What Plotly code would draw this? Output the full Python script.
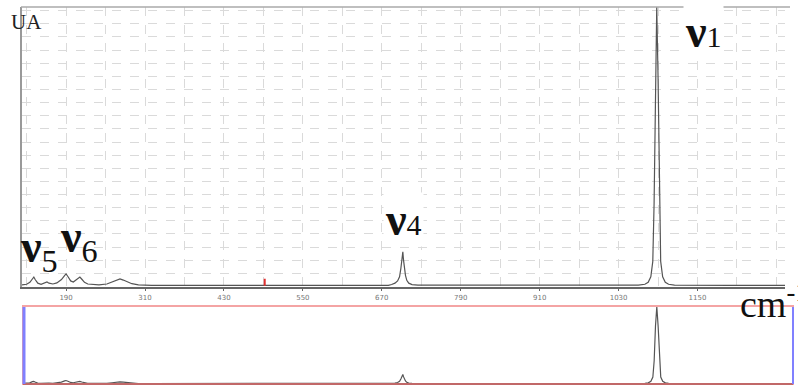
import plotly.graph_objects as go

# Raman spectrum (wavenumber in cm-1, relative intensity in %)
wavenumber = [123, 130, 135, 139, 141, 143, 147, 152, 157, 161, 164, 170, 176, 183, 188, 190,
              193, 197, 201, 205, 209, 211, 214, 218, 223, 230, 240, 252, 260, 267, 272, 277,
              283, 290, 300, 320, 400, 500, 600, 680, 685, 690, 694, 697, 699, 700, 702, 703,
              704, 706, 708, 711, 716, 725, 800, 900, 1000, 1060, 1070, 1075, 1079, 1082, 1084,
              1086, 1088, 1090, 1092, 1094, 1097, 1101, 1106, 1115, 1200, 1283, 1295]
intensity = [0.6, 0.8, 1.5, 3.0, 3.4, 2.5, 1.2, 0.8, 1.2, 1.6, 1.2, 0.9, 1.3, 2.5, 4.0, 4.5,
             3.5, 2.0, 1.6, 2.3, 3.2, 3.4, 2.6, 1.5, 0.9, 0.7, 0.6, 0.9, 1.6, 2.4, 2.7, 2.3,
             1.6, 1.0, 0.6, 0.4, 0.4, 0.4, 0.4, 0.4, 0.7, 1.2, 2.0, 3.5, 6.5, 8.0, 12.4, 9.5,
             7.0, 4.0, 2.2, 1.2, 0.7, 0.5, 0.5, 0.5, 0.5, 0.5, 0.8, 1.5, 3.5, 9.0, 30.0,
             75.0, 100.0, 75.0, 30.0, 9.0, 3.5, 1.5, 0.8, 0.5, 0.4, 0.4, 0.4]

tick_values = [190, 310, 430, 550, 670, 790, 910, 1030, 1150]
tick_labels = [str(v) for v in tick_values]

# Band labels: (text, x px, y px, white box)
band_labels = [
    ("<b>ν</b><span style='font-size:30px'>1</span>", 703, 31, True),
    ("<b>ν</b><span style='font-size:30px'>4</span>", 403, 219, True),
    ("<b>ν</b><sub>5</sub>", 39, 250, False),
    ("<b>ν</b><sub>6</sub>", 79, 240, False),
]

SERIF = "Times New Roman, Liberation Serif, DejaVu Serif, serif"
W, H = 798, 385


def px(x):
    return x / W


def py(y):
    return 1 - y / H


fig = go.Figure()

line_style = dict(color="#555555", width=1.2)
fig.add_trace(go.Scatter(x=wavenumber, y=intensity, mode="lines", line=line_style,
                         xaxis="x", yaxis="y", hoverinfo="skip"))
fig.add_trace(go.Scatter(x=wavenumber, y=intensity, mode="lines", line=line_style,
                         xaxis="x2", yaxis="y2", hoverinfo="skip"))
# cursor marker on the baseline
fig.add_trace(go.Scatter(x=[492], y=[1.5], mode="markers",
                         marker=dict(symbol="line-ns", size=5, line=dict(color="#e03030", width=2)),
                         xaxis="x", yaxis="y", hoverinfo="skip"))

grid_col = "#dadada"
fig.update_layout(
    width=W, height=H,
    margin=dict(l=0, r=0, t=0, b=0),
    paper_bgcolor="white", plot_bgcolor="white",
    showlegend=False,
    xaxis=dict(
        domain=[px(22), px(785)], range=[123, 1283], anchor="y",
        tickvals=tick_values, ticktext=tick_labels,
        tickfont=dict(family="DejaVu Sans", size=7, color="#777777"),
        ticks="outside", ticklen=3, tickcolor="#666666",
        showline=True, linecolor="#666666", linewidth=1.5,
        showgrid=True, gridcolor=grid_col, griddash="dash", gridwidth=1,
        minor=dict(tick0=130, dtick=60, showgrid=True, gridcolor=grid_col,
                   griddash="dash", gridwidth=1, ticks=""),
        zeroline=False,
    ),
    yaxis=dict(
        domain=[py(286.5), py(7)], range=[0, 100], anchor="x",
        showticklabels=False, ticks="",
        showline=True, linecolor="#999999", linewidth=2,
        showgrid=True, gridcolor=grid_col, griddash="dash", gridwidth=1,
        tick0=0, dtick=4.7, zeroline=False,
    ),
    xaxis2=dict(
        domain=[px(23), px(793)], range=[124.7, 1295], anchor="y2",
        showticklabels=False, ticks="", showgrid=False, zeroline=False, showline=False,
    ),
    yaxis2=dict(
        domain=[py(384), py(306)], range=[0, 101], anchor="x2",
        showticklabels=False, ticks="", showgrid=False, zeroline=False, showline=False,
    ),
)

shapes = [
    # top border of main panel
    dict(type="line", xref="paper", yref="paper", x0=px(21), x1=px(790), y0=py(7), y1=py(7),
         line=dict(color="#aaaaaa", width=1.5)),
    # overview panel frame
    dict(type="rect", xref="paper", yref="paper", x0=px(23), x1=px(793), y0=py(384), y1=py(306),
         line=dict(color="#f4a4a4", width=2)),
    dict(type="line", xref="paper", yref="paper", x0=px(23), x1=px(793), y0=py(384), y1=py(384),
         line=dict(color="#b05555", width=1.5)),
    dict(type="line", xref="paper", yref="paper", x0=px(24), x1=px(24), y0=py(384), y1=py(307),
         line=dict(color="#8080ff", width=3)),
    dict(type="line", xref="paper", yref="paper", x0=px(793), x1=px(793), y0=py(384), y1=py(307),
         line=dict(color="#8080ff", width=2)),
]
fig.update_layout(shapes=shapes)

annotations = [
    dict(text="UA", x=px(9), y=py(22), xref="paper", yref="paper", xanchor="left", yanchor="middle",
         showarrow=False, font=dict(family=SERIF, size=21, color="#222222")),
    dict(text="cm<sup>-1</sup>", x=px(738), y=py(301), xref="paper", yref="paper",
         xanchor="left", yanchor="middle", showarrow=False,
         font=dict(family=SERIF, size=38, color="#111111")),
]
for text, x, y, boxed in band_labels:
    annotations.append(dict(
        text=text, x=px(x), y=py(y), xref="paper", yref="paper",
        xanchor="center", yanchor="middle", showarrow=False,
        bgcolor="white" if boxed else "rgba(0,0,0,0)",
        font=dict(family=SERIF, size=46, color="#111111"),
    ))
fig.update_layout(annotations=annotations)

fig.write_html("out.html")
